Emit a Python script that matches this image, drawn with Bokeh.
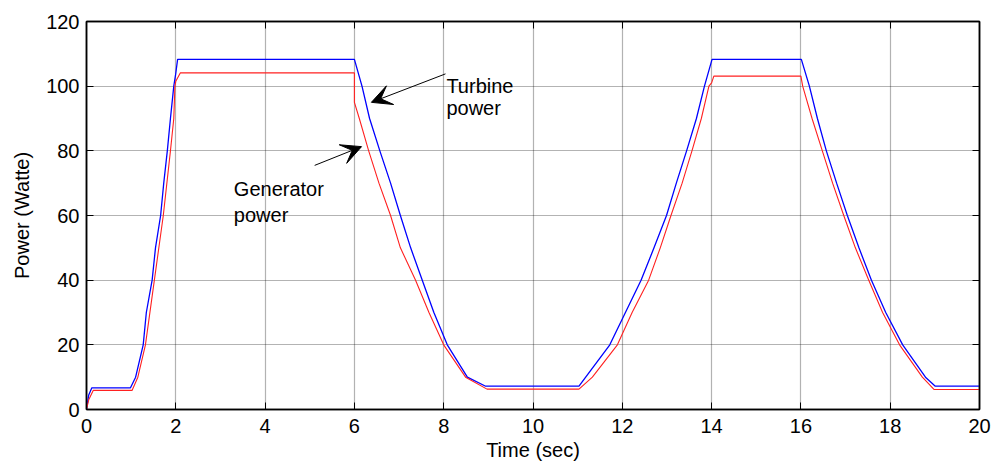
from bokeh.plotting import figure
from bokeh.models import LinearAxis, Label, Arrow, VeeHead, FixedTicker, Range1d
from bokeh.embed import file_html
from bokeh.resources import INLINE

# ---- data ----
turbine_t = [0, 0.05, 0.12, 0.985, 1.10, 1.27, 1.34, 1.47, 1.545, 1.66, 1.73, 1.81, 1.88, 1.955, 2.0, 2.04,
             6.0, 6.17, 6.34, 6.57, 6.81, 7.03, 7.26, 7.52, 7.78, 8.08, 8.53, 8.94,
             11.03, 11.18, 11.72, 12.07, 12.42, 12.71, 12.99, 13.21, 13.44, 13.66, 13.84, 14.01,
             16.01, 16.19, 16.37, 16.57, 16.80, 17.04, 17.30, 17.58, 17.90, 18.28, 18.79, 19.01, 20.0]
turbine_p = [0, 4.5, 6.7, 6.7, 10, 20, 30, 40, 50, 60, 70, 80, 90, 100, 104, 108.3,
             108.3, 100, 90, 80, 70, 60, 50, 40, 30, 20, 10, 7.2,
             7.2, 10, 20, 30, 40, 50, 60, 70, 80, 90, 100, 108.3,
             108.3, 100, 90, 80, 70, 60, 50, 40, 30, 20, 10, 7.2, 7.2]

generator_t = [0, 0.05, 0.15, 1.02, 1.15, 1.32, 1.52, 1.72, 1.88, 1.955, 1.98, 2.0, 2.1,
               6.0, 6.0, 6.11, 6.32, 6.55, 6.81, 7.03, 7.37, 7.67, 8.0, 8.49, 8.97,
               11.03, 11.33, 11.89, 12.22, 12.59, 12.85, 13.09, 13.34, 13.56, 13.77, 13.94, 14.0, 14.05,
               16.0, 16.04, 16.25, 16.48, 16.71, 16.96, 17.22, 17.52, 17.83, 18.21, 18.72, 18.98, 20.0]
generator_p = [0, 3, 5.9, 5.9, 10, 20, 40, 60, 80, 90, 100, 101.5, 104.1,
               104.1, 95, 90, 80, 70, 60, 50, 40, 30, 20, 10, 6.3,
               6.3, 10, 20, 30, 40, 50, 60, 70, 80, 90, 100, 101, 103.1,
               103.1, 100, 90, 80, 70, 60, 50, 40, 30, 20, 10, 6.2, 6.2]

x_ticks = [0, 2, 4, 6, 8, 10, 12, 14, 16, 18, 20]
y_ticks = [0, 20, 40, 60, 80, 100, 120]

# annotation anchors (data coordinates)
turbine_text = ["Turbine", "power"]
turbine_text_xy = [(8.06, 100.2), (8.06, 93.4)]
turbine_arrow = [(8.04, 103.8), (6.38, 95.0)]
generator_text = ["Generator", "power"]
generator_text_xy = [(3.30, 68.3), (3.30, 60.3)]
generator_arrow = [(5.11, 75.5), (6.16, 81.3)]

FONT = "Liberation Sans"
FS = "20px"

p = figure(width=991, height=468, output_backend="svg", toolbar_location=None,
           x_range=Range1d(0, 20), y_range=Range1d(0, 120),
           min_border_left=86, min_border_right=12, min_border_top=21, min_border_bottom=59)
p.background_fill_color = "white"
p.border_fill_color = "white"
p.outline_line_color = "black"
p.outline_line_width = 1.5

for ax in (p.xaxis[0], p.yaxis[0]):
    ax.axis_line_color = "black"
    ax.axis_line_width = 1.5
    ax.major_tick_in = 7
    ax.major_tick_out = 0
    ax.minor_tick_line_color = None
    ax.major_tick_line_color = "black"
    ax.major_label_text_font = FONT
    ax.major_label_text_font_size = FS
    ax.major_label_text_color = "black"
    ax.axis_label_text_font = FONT
    ax.axis_label_text_font_size = FS
    ax.axis_label_text_font_style = "normal"
    ax.axis_label_text_color = "black"

p.xaxis[0].ticker = FixedTicker(ticks=x_ticks)
p.yaxis[0].ticker = FixedTicker(ticks=y_ticks)
p.xaxis[0].axis_label = "Time (sec)"
p.yaxis[0].axis_label = "Power (Watte)"
p.xaxis[0].major_label_standoff = 9
p.xaxis[0].axis_label_standoff = 3
p.yaxis[0].major_label_standoff = 7
p.yaxis[0].axis_label_standoff = 10

top = LinearAxis(ticker=FixedTicker(ticks=x_ticks))
right = LinearAxis(ticker=FixedTicker(ticks=y_ticks))
for ax in (top, right):
    ax.axis_line_color = "black"
    ax.axis_line_width = 1.5
    ax.major_tick_in = 7
    ax.major_tick_out = 0
    ax.minor_tick_line_color = None
    ax.major_label_text_color = None
    ax.major_label_text_font_size = "1px"
    ax.major_label_standoff = 0
p.add_layout(top, "above")
p.add_layout(right, "right")

p.xgrid.ticker = FixedTicker(ticks=x_ticks)
p.ygrid.ticker = FixedTicker(ticks=y_ticks)
for g in (p.xgrid[0], p.ygrid[0]):
    g.grid_line_color = "black"
    g.grid_line_alpha = 0.6
    g.grid_line_dash = "1 1"
    g.grid_line_width = 1.2

p.line(turbine_t, turbine_p, line_color="#0000ff", line_width=1.3)
p.line(generator_t, generator_p, line_color="#ff2020", line_width=1.1)

for txt, (x, y) in zip(turbine_text + generator_text, turbine_text_xy + generator_text_xy):
    p.add_layout(Label(x=x, y=y, text=txt, text_font=FONT, text_font_size=FS,
                       text_color="black", text_baseline="alphabetic", text_align="left"))

for (x0, y0), (x1, y1) in (turbine_arrow, generator_arrow):
    p.add_layout(Arrow(x_start=x0, y_start=y0, x_end=x1, y_end=y1,
                       line_color="black", line_width=1,
                       end=VeeHead(size=20, fill_color="black", line_color="black")))

open("out.html", "w").write(file_html(p, INLINE))
